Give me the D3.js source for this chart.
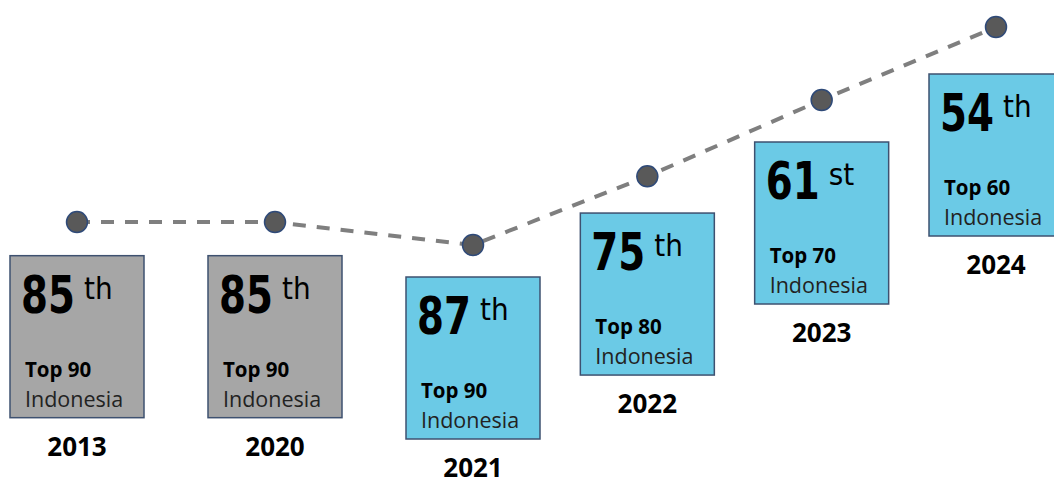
<!DOCTYPE html>
<html>
<head>
<meta charset="utf-8">
<script src="https://cdn.jsdelivr.net/npm/d3@7"></script>
<style>
  html, body { margin: 0; padding: 0; background: #fff; }
  svg { display: block; overflow: hidden; }
  .rank { font-family: "DejaVu Sans Condensed", "Liberation Sans Narrow", "DejaVu Sans", sans-serif; font-weight: bold; font-stretch: condensed; }
  .suffix { font-family: "DejaVu Sans Condensed", "DejaVu Sans", sans-serif; font-stretch: condensed; }
  .tier, .year { font-family: "Open Sans", sans-serif; font-weight: bold; }
  .country { font-family: "Open Sans", sans-serif; }
</style>
</head>
<body>
<svg id="chart" width="1054" height="485"></svg>
<script>
// ranking per year
const years = ['2013', '2020', '2021', '2022', '2023', '2024'];
const ranks = [85, 85, 87, 75, 61, 54];
const suffixes = ['th', 'th', 'th', 'th', 'st', 'th'];
const tiers = [90, 90, 90, 80, 70, 60];
const newSystem = [false, false, true, true, true, true];
// height of the trend line markers (illustrative level)
const trendLevel = [10.5, 10.5, 0, 31.5, 66.5, 100];

const data = years.map((y, i) => ({
  year: y, idx: i, rank: ranks[i], suffix: suffixes[i], tier: tiers[i],
  highlight: newSystem[i], level: trendLevel[i]
}));

const svg = d3.select('#chart');
const boxW = 134, boxH = 162, yearGap = 38;
const rankW = 54;

// the two old years sit a bit wider apart than the later ones
const x = d3.scaleLinear().domain([0, 2, years.length - 1]).range([77, 473, 996]);
const y = d3.scaleLinear().domain([0, 100]).range([245, 27]);
const yBox = d3.scaleLinear().domain([0, 100]).range([277, 74]);

const line = d3.line().x(d => x(d.idx)).y(d => y(d.level));

// boxes
const cards = svg.selectAll('g.card').data(data).join('g')
  .classed('card', true)
  .attr('transform', d => `translate(${x(d.idx) - boxW / 2},${yBox(d.level)})`);

cards.append('rect')
  .attr('width', boxW).attr('height', boxH)
  .attr('fill', d => d.highlight ? '#6BCAE6' : '#A6A6A6')
  .attr('stroke', '#3E5170').attr('stroke-width', 1.5);

// big rank number, squeezed to look like a narrow display face
cards.append('text').classed('rank', true)
  .attr('font-size', 52)
  .attr('fill', '#000')
  .text(d => d.rank)
  .attr('transform', function() {
    const k = rankW / this.getComputedTextLength();
    return `translate(11,57) scale(${k},1)`;
  });

cards.append('text').classed('suffix', true)
  .attr('x', 74).attr('y', 43)
  .attr('font-size', 31)
  .attr('fill', '#000')
  .text(d => d.suffix);

cards.append('text').classed('tier', true)
  .attr('x', 15).attr('y', 121)
  .attr('font-size', 20.5)
  .attr('fill', '#000')
  .text(d => `Top ${d.tier}`);

cards.append('text').classed('country', true)
  .attr('x', 15).attr('y', 151)
  .attr('font-size', 21.5)
  .attr('fill', '#222')
  .text('Indonesia');

cards.append('text').classed('year', true)
  .attr('x', boxW / 2).attr('y', boxH + yearGap)
  .attr('text-anchor', 'middle')
  .attr('font-size', 26)
  .attr('fill', '#000')
  .text(d => d.year);

// dashed trend line + markers
svg.append('path')
  .datum(data)
  .attr('d', line)
  .attr('fill', 'none')
  .attr('stroke', '#7F7F7F')
  .attr('stroke-width', 4)
  .attr('stroke-dasharray', '13 11');

svg.selectAll('circle.dot').data(data).join('circle')
  .classed('dot', true)
  .attr('cx', d => x(d.idx))
  .attr('cy', d => y(d.level))
  .attr('r', 10.5)
  .attr('fill', '#595959')
  .attr('stroke', '#2F4A78')
  .attr('stroke-width', 1.5);
</script>
</body>
</html>
